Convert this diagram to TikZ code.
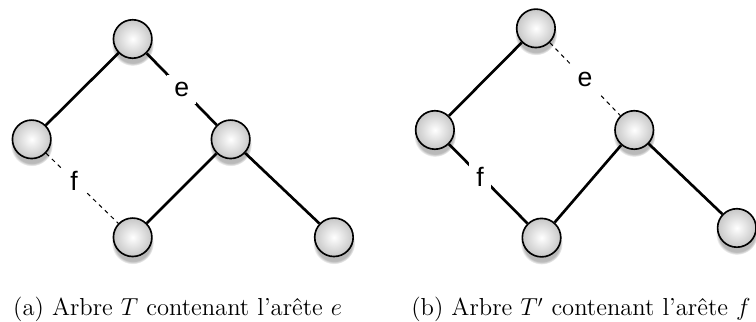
\documentclass[tikz,border=0pt]{standalone}
\usepackage{fontspec}
\newfontfamily\edgefont{Liberation Sans}
\usetikzlibrary{shadows}

\begin{document}
\begin{tikzpicture}[scale=1,
    vertex/.style={circle, draw, line width=0.8pt, minimum size=0.66cm, inner sep=0pt,
      shading=radial, inner color=white, outer color=black!22,
      circular drop shadow={shadow xshift=0pt, shadow yshift=-0.09cm, shadow scale=1.1, opacity=0.55}},
    tree/.style={line width=1.3pt},
    swap/.style={line width=0.5pt, dash pattern=on 2pt off 2pt},
    elabel/.style={fill=white, inner sep=3.5pt, font=\edgefont\fontsize{13}{15}\selectfont},
    caption/.style={anchor=base west, inner sep=0pt, font=\fontsize{12}{14}\selectfont}
  ]
    \useasboundingbox (0,0) rectangle (12.97,-5.52);

    % Nodes of T
    \node[vertex] (rootA) at (2.276, -0.669) {};
    \node[vertex] (leftA) at (0.543, -2.390) {};
    \node[vertex] (midA)  at (3.957, -2.390) {};
    \node[vertex] (botA)  at (2.276, -4.071) {};
    \node[vertex] (farA)  at (5.729, -4.071) {};

    % Nodes of T'
    \node[vertex] (rootB) at (9.194, -0.486) {};
    \node[vertex] (leftB) at (7.461, -2.230) {};
    \node[vertex] (midB)  at (10.881, -2.230) {};
    \node[vertex] (botB)  at (9.291, -4.077) {};
    \node[vertex] (farB)  at (12.641, -3.911) {};

    % Edges of T
    \draw[tree] (rootA) -- (leftA);
    \draw[tree] (rootA) -- (midA) node[midway, elabel] {e};
    \draw[tree] (midA) -- (botA);
    \draw[tree] (midA) -- (farA);
    \draw[swap] (leftA) -- (botA) node[midway, elabel, xshift=-4pt, yshift=3.5pt] {f};

    % Edges of T'
    \draw[tree] (rootB) -- (leftB);
    \draw[swap] (rootB) -- (midB) node[midway, elabel] {e};
    \draw[tree] (midB) -- (botB);
    \draw[tree] (midB) -- (farB);
    \draw[tree] (leftB) -- (botB) node[midway, elabel, xshift=-4pt, yshift=3.5pt] {f};

    % Captions
    \node[caption] (capA) at (0.22, -5.42) {(a) Arbre $T$ contenant l'arête $e$};
    \node[caption] (capB) at (7.05, -5.42) {(b) Arbre $T'$ contenant l'arête $f$};

  \end{tikzpicture}
\end{document}
